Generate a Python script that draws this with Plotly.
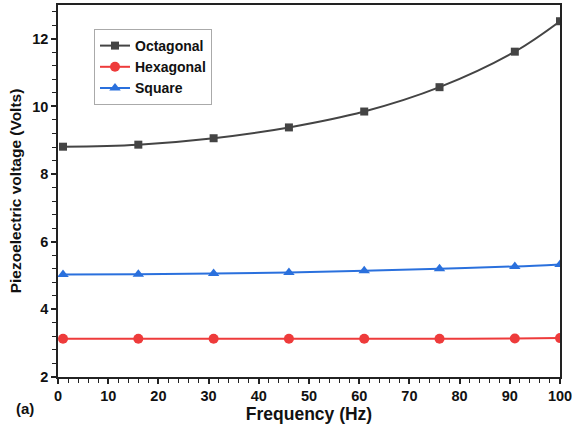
import plotly.graph_objects as go

freq = [1, 16, 31, 46, 61, 76, 91, 100]
octagonal = [8.81, 8.87, 9.06, 9.38, 9.85, 10.57, 11.62, 12.52]
hexagonal = [3.13, 3.13, 3.13, 3.13, 3.13, 3.13, 3.14, 3.15]
square = [5.03, 5.04, 5.06, 5.09, 5.14, 5.20, 5.27, 5.33]

x_ticks = [0, 10, 20, 30, 40, 50, 60, 70, 80, 90, 100]
y_ticks = [2, 4, 6, 8, 10, 12]

FONT = "Liberation Sans"

fig = go.Figure()
fig.add_trace(go.Scatter(x=freq, y=octagonal, name="Octagonal", mode="lines+markers",
                         line=dict(color="#444444", width=2, shape="spline"),
                         marker=dict(symbol="square", size=8, color="#444444")))
fig.add_trace(go.Scatter(x=freq, y=hexagonal, name="Hexagonal", mode="lines+markers",
                         line=dict(color="#ee3b3b", width=2, shape="spline"),
                         marker=dict(symbol="circle", size=10, color="#ee3b3b")))
fig.add_trace(go.Scatter(x=freq, y=square, name="Square", mode="lines+markers",
                         line=dict(color="#2a70dd", width=2, shape="spline"),
                         marker=dict(symbol="triangle-up", size=10, color="#2a70dd")))

axis_common = dict(showline=True, linecolor="#222222", linewidth=1.5, mirror=True,
                   ticks="outside", ticklen=5, tickwidth=1.5, tickcolor="#222222",
                   showgrid=False, zeroline=False, automargin=False,
                   ticklabeloverflow="allow",
                   tickfont=dict(family=FONT, size=14.5, color="#111111", weight="bold"))

fig.update_xaxes(range=[0, 100], tickmode="array", tickvals=x_ticks,
                 ticktext=["<b>%d</b>" % v for v in x_ticks],
                 minor=dict(dtick=2, tick0=0, ticks="outside", ticklen=4, tickcolor="#222222", tickwidth=1.2),
                 title=dict(text="<b>Frequency (Hz)</b>", font=dict(family=FONT, size=17.5, color="#111111"), standoff=5),
                 **axis_common)
fig.update_yaxes(range=[2, 13], tickmode="array", tickvals=y_ticks,
                 ticktext=["<b>%d</b>" % v for v in y_ticks],
                 minor=dict(dtick=0.4, tick0=2, ticks="outside", ticklen=4, tickcolor="#222222", tickwidth=1.2),
                 title=dict(text="<b>Piezoelectric voltage (Volts)</b>", font=dict(family=FONT, size=15.5, color="#111111"), standoff=7),
                 **axis_common)

fig.add_annotation(text="<b>(a)</b>", xref="paper", yref="paper",
                   x=(25 - 58) / (560 - 58), y=1 - (408 - 5) / (377 - 5),
                   xanchor="center", yanchor="middle", showarrow=False,
                   font=dict(family=FONT, size=15, color="#111111"))

fig.update_layout(
    width=572, height=432,
    margin=dict(l=58, r=12, t=5, b=55),
    plot_bgcolor="white", paper_bgcolor="white",
    legend=dict(x=(94 - 58) / 502, y=1 - (29 - 5) / 372, xanchor="left", yanchor="top",
                bordercolor="#aaaaaa", borderwidth=1, bgcolor="white",
                font=dict(family=FONT, size=14, color="#111111", weight="bold"),
                itemwidth=30, tracegroupgap=0),
    showlegend=True,
)

fig.write_html("out.html")
